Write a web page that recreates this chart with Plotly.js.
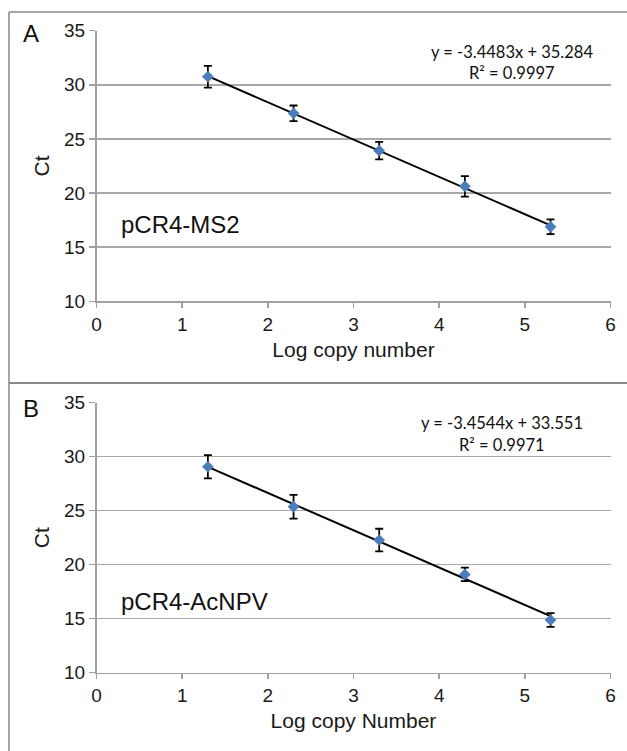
<!DOCTYPE html>
<html>
<head>
<meta charset="utf-8">
<script src="https://cdn.plot.ly/plotly-3.0.1.min.js"></script>
<style>html,body{margin:0;padding:0;background:#fff;}#chart{width:627px;height:751px;}</style>
</head>
<body>
<div id="chart"></div>
<script>
// Data
var logCopy = [1.3, 2.3, 3.3, 4.3, 5.3];
var ctMS2 = [30.75, 27.37, 23.92, 20.62, 16.88];
var errMS2 = [1.0, 0.72, 0.8, 0.95, 0.68];
var ctAcNPV = [29.07, 25.37, 22.28, 19.1, 14.88];
var errAcNPV = [1.08, 1.1, 1.05, 0.62, 0.63];
var trendX = [1.3, 5.3];
var trendMS2 = [30.80, 17.01];
var trendAcNPV = [29.06, 15.24];
var eqMS2 = ["y = -3.4483x + 35.284", "R² = 0.9997"];
var eqAcNPV = ["y = -3.4544x + 33.551", "R² = 0.9971"];
var yTicks = [10, 15, 20, 25, 30, 35];
var xTicks = [0, 1, 2, 3, 4, 5, 6];

var markerColor = '#4a7ebb';
var tickFont = {family: 'Liberation Sans, Arial, sans-serif', size: 19, color: '#1a1a1a'};

function scatter(y, err, xa, ya) {
  return {
    x: logCopy, y: y, xaxis: xa, yaxis: ya, type: 'scatter', mode: 'markers',
    marker: {symbol: 'diamond', size: 9, color: markerColor},
    error_y: {type: 'data', array: err, visible: true, color: '#000', thickness: 1.8, width: 4},
    showlegend: false, hoverinfo: 'x+y'
  };
}
function trend(y, xa, ya) {
  return {x: trendX, y: y, xaxis: xa, yaxis: ya, type: 'scatter', mode: 'lines',
    line: {color: '#000', width: 2}, showlegend: false, hoverinfo: 'skip'};
}

var data = [
  trend(trendMS2, 'x', 'y'), scatter(ctMS2, errMS2, 'x', 'y'),
  trend(trendAcNPV, 'x2', 'y2'), scatter(ctAcNPV, errAcNPV, 'x2', 'y2')
];

function xaxis(domain, anchor, title) {
  return {
    domain: domain, anchor: anchor, range: [0, 6], tickvals: xTicks, ticktext: xTicks.map(String),
    showgrid: false, zeroline: false, showline: true, linecolor: '#a0a0a0', linewidth: 1.5,
    ticks: 'outside', ticklen: 5, tickwidth: 1.5, tickcolor: '#a0a0a0', tickfont: tickFont,
    title: {text: title, font: {family: 'Liberation Sans, Arial, sans-serif', size: 21, color: '#1a1a1a'}, standoff: 8},
    fixedrange: true
  };
}
function yaxis(domain, anchor) {
  return {
    domain: domain, anchor: anchor, range: [10, 35], tickvals: yTicks, ticktext: yTicks.map(String),
    showgrid: true, gridcolor: '#a8a8a8', gridwidth: 1.5, zeroline: false,
    showline: true, linecolor: '#a0a0a0', linewidth: 1.5,
    ticks: 'outside', ticklen: 6, tickwidth: 1.5, tickcolor: '#a0a0a0', tickfont: tickFont,
    title: {text: 'Ct', font: {family: 'Liberation Sans, Arial, sans-serif', size: 21, color: '#1a1a1a'}, standoff: 8},
    fixedrange: true
  };
}

var xDom = [96.5 / 627, 610.5 / 627];
var layout = {
  width: 627, height: 751,
  margin: {l: 0, r: 0, t: 0, b: 0},
  paper_bgcolor: '#fff', plot_bgcolor: '#fff',
  xaxis: xaxis(xDom, 'y', 'Log copy number'),
  yaxis: yaxis([(751 - 301.3) / 751, (751 - 30.7) / 751], 'x'),
  xaxis2: xaxis(xDom, 'y2', 'Log copy Number'),
  yaxis2: yaxis([(751 - 672.7) / 751, (751 - 402.7) / 751], 'x2'),
  shapes: [
    {type: 'line', xref: 'paper', yref: 'paper', x0: 9 / 627, x1: 1, y0: 1 - 12 / 751, y1: 1 - 12 / 751, line: {color: '#888', width: 1.5}},
    {type: 'line', xref: 'paper', yref: 'paper', x0: 9 / 627, x1: 9 / 627, y0: 0, y1: 1 - 12 / 751, line: {color: '#888', width: 1.5}},
    {type: 'line', xref: 'paper', yref: 'paper', x0: 9 / 627, x1: 1, y0: 1 - 383 / 751, y1: 1 - 383 / 751, line: {color: '#888', width: 2}}
  ],
  annotations: [
    {text: 'A', xref: 'paper', yref: 'paper', x: 30.5 / 627, y: 1 - 33 / 751, xanchor: 'center', yanchor: 'middle', showarrow: false,
      font: {family: 'Liberation Sans, Arial, sans-serif', size: 24, color: '#111'}},
    {text: 'B', xref: 'paper', yref: 'paper', x: 31 / 627, y: 1 - 408 / 751, xanchor: 'center', yanchor: 'middle', showarrow: false,
      font: {family: 'Liberation Sans, Arial, sans-serif', size: 24, color: '#111'}},
    {text: 'pCR4-MS2', xref: 'paper', yref: 'paper', x: 118.8 / 627, y: 1 - 224 / 751, xanchor: 'left', yanchor: 'middle', showarrow: false,
      font: {family: 'Liberation Sans, Arial, sans-serif', size: 24, color: '#111'}},
    {text: 'pCR4-AcNPV', xref: 'paper', yref: 'paper', x: 118.8 / 627, y: 1 - 601 / 751, xanchor: 'left', yanchor: 'middle', showarrow: false,
      font: {family: 'Liberation Sans, Arial, sans-serif', size: 24, color: '#111'}},
    {text: eqMS2[0], xref: 'paper', yref: 'paper', x: 512 / 627, y: 1 - 51.7 / 751, xanchor: 'center', yanchor: 'middle', showarrow: false,
      font: {family: 'Lato, sans-serif', size: 16.5, color: '#111'}},
    {text: eqMS2[1], xref: 'paper', yref: 'paper', x: 512 / 627, y: 1 - 73.3 / 751, xanchor: 'center', yanchor: 'middle', showarrow: false,
      font: {family: 'Lato, sans-serif', size: 16.5, color: '#111'}},
    {text: eqAcNPV[0], xref: 'paper', yref: 'paper', x: 502 / 627, y: 1 - 423.3 / 751, xanchor: 'center', yanchor: 'middle', showarrow: false,
      font: {family: 'Lato, sans-serif', size: 16.5, color: '#111'}},
    {text: eqAcNPV[1], xref: 'paper', yref: 'paper', x: 502 / 627, y: 1 - 445 / 751, xanchor: 'center', yanchor: 'middle', showarrow: false,
      font: {family: 'Lato, sans-serif', size: 16.5, color: '#111'}}
  ]
};

Plotly.newPlot('chart', data, layout, {displayModeBar: false, staticPlot: true});
</script>
</body>
</html>
